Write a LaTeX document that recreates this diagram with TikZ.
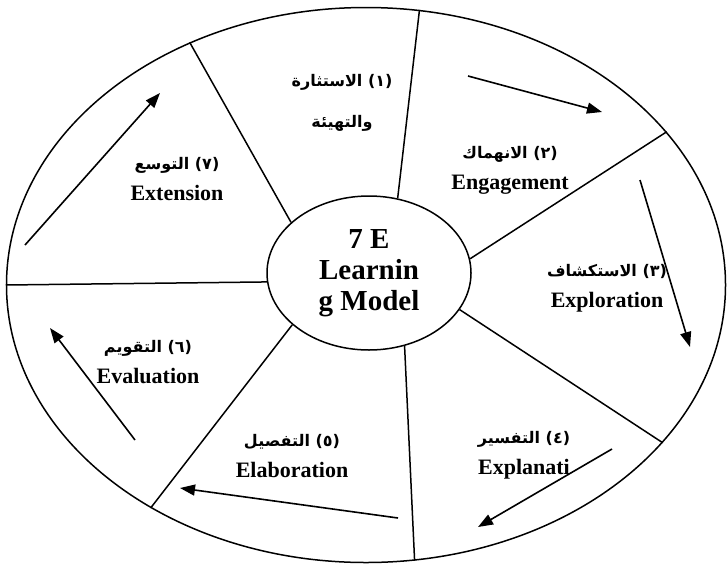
\documentclass[tikz,border=0pt]{standalone}
\usepackage{fontspec}
\setmainfont{Liberation Serif}
\newfontfamily\arabicfont[Script=Arabic]{DejaVu Sans}
\TeXXeTstate=1
\usetikzlibrary{positioning,arrows.meta,shapes.geometric}
\newcommand{\artext}[1]{{\arabicfont\fontsize{16}{16}\selectfont\beginR #1\endR}}

\begin{document}
\begin{tikzpicture}[
x=1pt, y=-1pt,
ring/.style={draw, ellipse, line width=1.5pt, inner sep=0pt},
spoke/.style={line width=1.5pt},
flow/.style={-{Triangle[length=15pt,width=11pt]}, line width=1.6pt},
phase/.style={align=center, font=\fontsize{22}{31}\selectfont\bfseries}
]
\useasboundingbox (0,0) rectangle (727,568);
\node[ring, minimum width=719pt, minimum height=555pt] (outer) at (366,285) {};
\node[ring, minimum width=204pt, minimum height=154pt, align=center, font=\fontsize{29}{31}\selectfont\bfseries] (core) at (369,273) {7 E\\Learnin\\g Model};

% spokes
\draw[spoke] (core.69) -- (outer.79);
\draw[spoke] (core.8) -- (outer.27);
\draw[spoke] (core.-22) -- (outer.-28);
\draw[spoke] (core.-64) -- (outer.-80);
\draw[spoke] (core.-146) -- (outer.-134);
\draw[spoke] (core.185) -- (outer.180);
\draw[spoke] (core.147) -- (outer.126);

% phases
\node[phase] (excite) at (342,103) {\artext{(١) الاستثارة}\\[10pt]\artext{والتهيئة}};
\node[phase] (engage) at (510,170) {\artext{(٢) الانهماك}\\Engagement};
\node[phase] (explore) at (607,288) {\artext{(٣) الاستكشاف}\\Exploration};
\node[phase] (explain) at (524,455) {\artext{(٤) التفسير}\\Explanati};
\node[phase] (elab) at (292,456) {\artext{(٥) التفصيل}\\Elaboration};
\node[phase] (evaluate) at (148,362) {\artext{(٦) التقويم}\\Evaluation};
\node[phase] (extend) at (177,179) {\artext{(٧) التوسع}\\Extension};

% cycle arrows
\coordinate (c1) at (468,76);  \coordinate (c2) at (602,112);
\coordinate (c3) at (640,180); \coordinate (c4) at (690,347);
\coordinate (c5) at (612,449); \coordinate (c6) at (478,527);
\coordinate (c7) at (398,518); \coordinate (c8) at (180,488);
\coordinate (c9) at (135,440); \coordinate (c10) at (50,328);
\coordinate (c11) at (25,245); \coordinate (c12) at (160,93);
\draw[flow] (c1) -- (c2);
\draw[flow] (c3) -- (c4);
\draw[flow] (c5) -- (c6);
\draw[flow] (c7) -- (c8);
\draw[flow] (c9) -- (c10);
\draw[flow] (c11) -- (c12);
\end{tikzpicture}
\end{document}
